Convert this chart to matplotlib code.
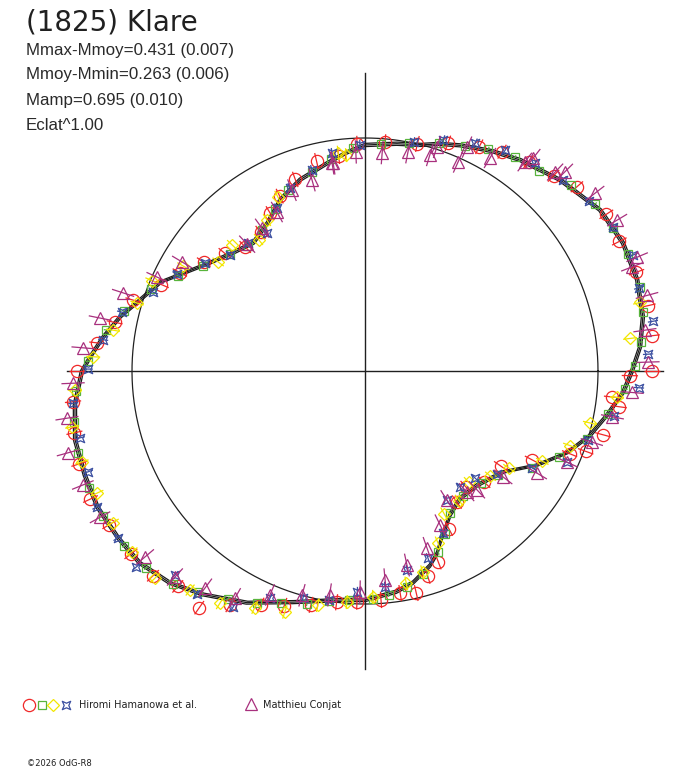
import numpy as np
import matplotlib.pyplot as plt
from matplotlib.collections import LineCollection
from matplotlib.path import Path

title = '(1825) Klare'
stats_lines = ['Mmax-Mmoy=0.431 (0.007)', 'Mmoy-Mmin=0.263 (0.006)',
               'Mamp=0.695 (0.010)', 'Eclat^1.00']
observers = ['Hiromi Hamanowa et al.', 'Matthieu Conjat']
credit = '\u00a92026 OdG-R8'

# fitted light curve, phase angle (deg) -> relative flux (circle = 1)
fit_angle = [0, 5, 11, 18.5, 26.4, 34.4, 44.4, 53.7, 60, 67, 72, 76, 82, 90, 95,
             100.4, 108.8, 116.4, 123.5, 131, 138, 145, 151, 156.5, 162.5, 167.6,
             172.6, 177, 180, 186.5, 193.4, 200.4, 207, 214, 220.5, 227.4, 234,
             243, 252.7, 264.5, 270, 278, 282.8, 288.5, 291.6, 294, 298, 300.6,
             306.8, 314.5, 323.8, 331.3, 338, 344, 349.7, 355.3]
fit_flux = [1.146, 1.185, 1.215, 1.232, 1.236, 1.223, 1.172, 1.124, 1.090, 1.052,
            1.025, 1.000, 0.985, 0.970, 0.940, 0.906, 0.867, 0.820, 0.760, 0.730,
            0.760, 0.811, 0.876, 0.957, 1.013, 1.077, 1.133, 1.180, 1.215, 1.253,
            1.279, 1.283, 1.288, 1.279, 1.270, 1.236, 1.185, 1.116, 1.039, 0.987,
            0.983, 0.957, 0.931, 0.880, 0.841, 0.798, 0.747, 0.717, 0.682, 0.687,
            0.734, 0.841, 0.936, 1.004, 1.056, 1.112]
fit_sigma = 0.007

# Hiromi Hamanowa et al. (four sessions) and Matthieu Conjat
red_angle = [359, 0, 7, 13, 20, 27, 33, 41, 46, 52, 58, 63, 70, 77, 85, 92, 97, 103,
             110, 116, 121, 127, 134, 140, 146, 152, 157, 163, 169, 174, 180, 186,
             192, 198, 205, 211, 218, 224, 229, 235, 240, 246, 251, 257, 263, 268,
             274, 279, 283, 287, 291, 298, 305, 311, 317, 325, 332, 338, 340, 345,
             352, 354]
red_flux = [1.137, 1.232, 1.24, 1.245, 1.24, 1.225, 1.235, 1.205, 1.165, 1.14, 1.11,
            1.08, 1.04, 1.0, 0.985, 0.975, 0.93, 0.925, 0.875, 0.835, 0.79, 0.745,
            0.74, 0.785, 0.835, 0.9, 0.95, 1.04, 1.095, 1.155, 1.235, 1.26, 1.275,
            1.29, 1.3, 1.28, 1.275, 1.265, 1.225, 1.24, 1.16, 1.1, 1.065, 1.03, 1.0,
            0.99, 0.985, 0.965, 0.978, 0.92, 0.877, 0.766, 0.687, 0.66, 0.70, 0.711,
            0.812, 0.947, 1.008, 1.057, 1.10, 1.066]
red_err = 0.035

green_angle = [1, 6, 12, 17, 24, 30, 36, 42, 49, 55, 61, 66, 72, 79, 86, 93, 99, 105,
               113, 119, 126, 133, 139, 147, 153, 159, 166, 171, 178, 184, 190, 196,
               203, 209, 216, 222, 228, 233, 239, 245, 250, 256, 261, 266, 272, 276,
               281, 286, 292, 296, 301, 308, 316, 322, 330, 336, 343, 350, 356]
green_flux = [1.16, 1.19, 1.22, 1.235, 1.235, 1.228, 1.22, 1.19, 1.14, 1.12, 1.09,
              1.055, 1.03, 0.995, 0.975, 0.96, 0.92, 0.885, 0.845, 0.795, 0.75, 0.735,
              0.765, 0.83, 0.9, 0.985, 1.065, 1.125, 1.19, 1.245, 1.27, 1.28, 1.285,
              1.285, 1.278, 1.265, 1.23, 1.19, 1.14, 1.1, 1.06, 1.03, 1.0, 0.985,
              0.98, 0.965, 0.945, 0.905, 0.84, 0.78, 0.71, 0.68, 0.69, 0.725, 0.83,
              0.91, 0.995, 1.06, 1.12]
green_err = 0.01

yellow_angle = [7, 14, 354, 347, 340, 333, 326, 320, 313, 306, 299, 293, 286, 281,
                272, 265.5, 258.6, 251.6, 245, 238, 231.4, 224.6, 217.8, 211, 204.5,
                197.8, 190.8, 183.7, 177, 170.8, 163.4, 157, 150, 143.4, 136.5, 129,
                123, 116.6, 97, 95]
yellow_flux = [1.146, 1.216, 1.087, 0.99, 0.935, 0.854, 0.746, 0.703, 0.653, 0.687,
               0.70, 0.802, 0.898, 0.929, 0.97, 0.995, 1.025, 1.09, 1.12, 1.175,
               1.203, 1.265, 1.266, 1.263, 1.264, 1.276, 1.28, 1.248, 1.168, 1.096,
               1.021, 0.994, 0.9, 0.785, 0.786, 0.726, 0.772, 0.835, 0.944, 0.93]
yellow_err = 0.03

blue_angle = [16.9, 9.8, 3.4, 356.5, 349.8, 78, 71.3, 64.2, 57.6, 50.7, 44, 37.2,
              30.1, 23.4, 91.3, 98.6, 104.8, 112.3, 118.4, 125.4, 132.4, 139.3, 146,
              152.7, 159.6, 166.4, 173.2, 179.6, 186.3, 193.2, 200, 206.9, 214, 220.6,
              227, 233, 240.8, 247.3, 254.7, 261, 268, 275.3, 282, 288.6, 295.7,
              302.4, 309.3, 315.8, 322, 329.9, 335.7, 342.8]
blue_flux = [1.229, 1.254, 1.217, 1.178, 1.086, 1.004, 1.046, 1.086, 1.123, 1.153,
             1.181, 1.207, 1.231, 1.253, 0.97, 0.946, 0.892, 0.85, 0.795, 0.726,
             0.743, 0.764, 0.829, 0.908, 0.97, 1.073, 1.132, 1.19, 1.26, 1.257,
             1.265, 1.29, 1.28, 1.293, 1.197, 1.2, 1.16, 1.056, 1.01, 0.995, 0.949,
             0.93, 0.873, 0.847, 0.772, 0.656, 0.643, 0.659, 0.72, 0.829, 0.951,
             1.002]
blue_err = 0.022

purple_angle = [98.7, 92.4, 85.5, 78.9, 73.3, 72.2, 66, 65.5, 59.6, 52.6, 51.7, 46.3,
                44.9, 37.7, 30.9, 22.7, 21.3, 15, 8.3, 1.8, 355.4, 349.5, 342.6,
                335.7, 329.3, 322.5, 313.3, 310, 302.4, 296, 289.3, 282.2, 275.5,
                268.7, 261, 254.3, 247, 240.2, 233.6, 227.3, 220.2, 208.9, 202,
                195.4, 189, 182.4, 175.3, 168.7, 162.1, 155.7, 149.2, 132.9, 125.8,
                119, 112, 105.5, 99]
purple_flux = [0.903, 0.941, 0.94, 0.958, 0.968, 1.01, 0.982, 1.056, 1.06, 1.129,
               1.164, 1.181, 1.21, 1.248, 1.261, 1.266, 1.23, 1.253, 1.214, 1.215,
               1.15, 1.08, 1.02, 0.951, 0.858, 0.747, 0.701, 0.679, 0.656, 0.735,
               0.805, 0.852, 0.901, 0.949, 0.973, 1.0, 1.044, 1.124, 1.157, 1.203,
               1.236, 1.299, 1.306, 1.322, 1.295, 1.254, 1.214, 1.159, 1.091, 0.979,
               0.914, 0.743, 0.756, 0.78, 0.837, 0.85, 0.904]
purple_err = 0.05

# layout in pixels
W, H = 688, 768
cx, cy, unit = 365, 371, 233
axis_len = 1.28

# concave square used by one of the sessions
star_verts = [(-1, -1), (0, -0.55), (1, -1), (0.55, 0), (1, 1), (0, 0.55),
              (-1, 1), (-0.55, 0), (-1, -1)]
concave_square = Path(star_verts, closed=True)


def to_xy(angle_deg, flux):
    a = np.radians(np.asarray(angle_deg, dtype=float))
    r = np.asarray(flux, dtype=float)
    return r * np.cos(a), r * np.sin(a)


def radial_bars(angle_deg, flux, err):
    a = np.radians(np.asarray(angle_deg, dtype=float))
    r = np.asarray(flux, dtype=float)
    lo, hi = r - err, r + err
    return [[(l * np.cos(t), l * np.sin(t)), (h * np.cos(t), h * np.sin(t))]
            for t, l, h in zip(a, lo, hi)]


fig = plt.figure(figsize=(W / 100, H / 100), dpi=100)
ax = fig.add_axes([0, 0, 1, 1])
ax.set_xlim(-cx / unit, (W - cx) / unit)
ax.set_ylim(-(H - cy) / unit, cy / unit)
ax.axis('off')

# axes cross and reference circle
ax.plot([-axis_len, axis_len], [0, 0], color='#202020', lw=1.0)
ax.plot([0, 0], [-axis_len, axis_len], color='#202020', lw=1.0)
t = np.linspace(0, 2 * np.pi, 400)
ax.plot(np.cos(t), np.sin(t), color='#202020', lw=0.9)

# fitted curve with its uncertainty band
fa = fit_angle + [fit_angle[0] + 360]
ff = np.array(fit_flux + [fit_flux[0]])
for off in (-fit_sigma, 0, fit_sigma):
    fx, fy = to_xy(fa, ff + off)
    ax.plot(fx, fy, color='#1a1a1a', lw=0.9)

series = [
    (red_angle, red_flux, red_err, '#f02828', 'o', 8.8),
    (green_angle, green_flux, green_err, '#58b43c', 's', 6.0),
    (yellow_angle, yellow_flux, yellow_err, '#f2e600', 'D', 5.8),
    (blue_angle, blue_flux, blue_err, '#3a4ea0', concave_square, 6.0),
    (purple_angle, purple_flux, purple_err, '#a8307e', '^', 8.0),
]
for ang, flux, err, col, mk, ms in series:
    ax.add_collection(LineCollection(radial_bars(ang, flux, err), colors=col, lw=0.9))
    x, y = to_xy(ang, flux)
    ax.plot(x, y, ls='none', marker=mk, ms=ms, mfc='none', mec=col, mew=0.9)

# texts
fig.text(26 / W, 1 - 22 / H, title, fontsize=20, family='DejaVu Sans',
         color='#202020', va='center', ha='left')
for i, line in enumerate(stats_lines):
    fig.text(26 / W, 1 - (50 + 25 * i) / H, line, fontsize=12.2,
             family='Liberation Sans', color='#2a2a2a', va='center', ha='left')

# legend strip
lg = fig.add_axes([0, 0, 1, 1])
lg.set_xlim(0, W)
lg.set_ylim(H, 0)
lg.axis('off')
legend_marks = [(29, series[0]), (41.5, series[1]), (53, series[2]), (66, series[3])]
for px, s in legend_marks:
    lg.plot([px], [705], ls='none', marker=s[4], ms=s[5], mfc='none', mec=s[3], mew=0.9)
lg.plot([251], [704], ls='none', marker='^', ms=8.0, mfc='none', mec=series[4][3], mew=0.9)
lg.text(79, 705, observers[0], fontsize=7, color='#202020', va='center', ha='left')
lg.text(263, 705, observers[1], fontsize=7, color='#202020', va='center', ha='left')
lg.text(27, 763, credit, fontsize=6, color='#202020', va='center', ha='left')

fig.savefig('out.png', dpi=100)
